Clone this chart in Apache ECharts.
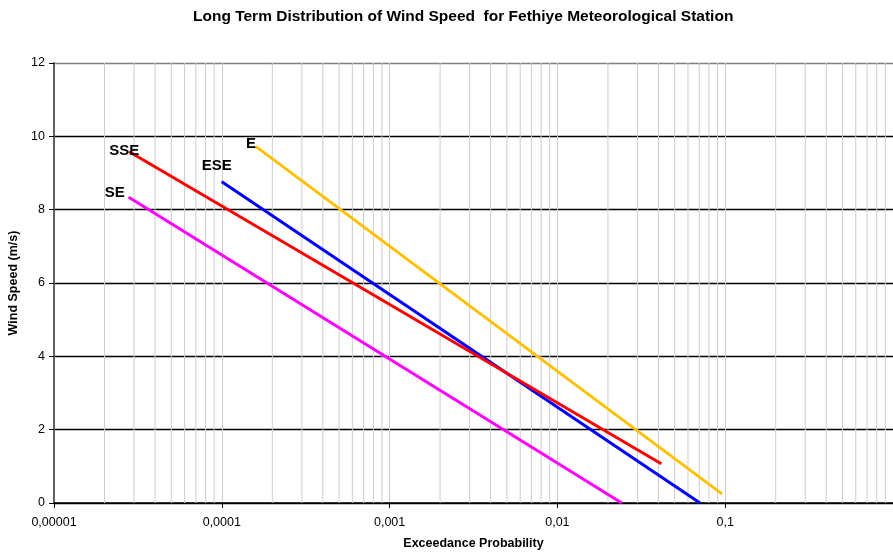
<!DOCTYPE html>
<html>
<head>
<meta charset="utf-8">
<script src="https://cdn.jsdelivr.net/npm/echarts@6/dist/echarts.min.js"></script>
<style>
  html, body { margin: 0; padding: 0; background: #fff; }
  #chart { width: 893px; height: 555px; }
</style>
</head>
<body>
<div id="chart"></div>
<script>
// Exceedance probability (x) vs wind speed (y) for each direction sector, line endpoints
const sectorNames = ['E', 'ESE', 'SSE', 'SE'];
const sectorColors = ['#FFC000', '#0000FF', '#FF0000', '#FF00FF'];
const probE   = [0.00016, 0.0957];
const speedE  = [9.72, 0.25];
const probESE  = [0.0001, 0.0708];
const speedESE = [8.76, 0.0];
const probSSE  = [0.0000281, 0.0416];
const speedSSE = [9.58, 1.07];
const probSE   = [0.0000279, 0.0242];
const speedSE  = [8.34, 0.0];

const xTickLabels = ['0,00001', '0,0001', '0,001', '0,01', '0,1', ''];
const yTicks = [0, 2, 4, 6, 8, 10, 12];

const FONT = 'Liberation Sans, Arial, sans-serif';

// label offsets relative to the upper end of each line
const labelOffsets = {E: [-5, 10.5], ESE: [-5, -2.5], SSE: [-5, 12.5], SE: [-14, 8.5]};

const seriesData = {
  E:   probE.map((p, i) => [p, speedE[i]]),
  ESE: probESE.map((p, i) => [p, speedESE[i]]),
  SSE: probSSE.map((p, i) => [p, speedSSE[i]]),
  SE:  probSE.map((p, i) => [p, speedSE[i]])
};

const series = [];

// intermediate log gridlines (2..9 within each decade), drawn as thin vertical lines
for (let d = -5; d < 0; d++) {
  for (let m = 2; m <= 9; m++) {
    const x = m * Math.pow(10, d);
    series.push({
      type: 'line',
      data: [[x, 0], [x, 12]],
      symbol: 'none',
      silent: true,
      lineStyle: { color: '#cccccc', width: 1 },
      z: 1,
      animation: false
    });
  }
}

sectorNames.forEach((name, si) => {
  series.push({
    name: name,
    type: 'line',
    data: seriesData[name],
    symbol: 'none',
    lineStyle: { color: sectorColors[si], width: 3 },
    itemStyle: { color: sectorColors[si] },
    z: 5,
    animation: false
  });
  // sector name next to the upper end of its line
  series.push({
    type: 'scatter',
    data: [seriesData[name][0]],
    symbolSize: 1,
    itemStyle: { color: sectorColors[si], opacity: 1 },
    silent: true,
    label: {
      show: true, position: 'top', distance: 5, formatter: name,
      offset: labelOffsets[name], opacity: 1,
      fontFamily: FONT, fontWeight: 'bold', fontSize: 15, color: '#000000',
      textBorderWidth: 0
    },
    z: 6,
    animation: false
  });
});

const chart = echarts.init(document.getElementById('chart'), null, { renderer: 'canvas' });
chart.setOption({
  animation: false,
  backgroundColor: '#fff',
  title: {
    text: 'Long Term Distribution of Wind Speed  for Fethiye Meteorological Station',
    left: 188, top: 4,
    textStyle: { fontFamily: FONT, fontWeight: 'bold', fontSize: 15.5, color: '#000' }
  },
  grid: { left: 54, right: 0, top: 63, bottom: 52, containLabel: false, outerBoundsMode: 'none' },
  xAxis: {
    type: 'log', logBase: 10, min: 0.00001, max: 1,
    name: 'Exceedance Probability', nameLocation: 'middle', nameGap: 34,
    nameTextStyle: { fontFamily: FONT, fontWeight: 'bold', fontSize: 12.5, color: '#000' },
    axisLine: { show: true, onZero: false, lineStyle: { color: '#000', width: 1.5 } },
    axisTick: { show: true, length: 5, lineStyle: { color: '#000' } },
    axisLabel: {
      fontFamily: FONT, fontSize: 12.5, color: '#000', margin: 13,
      formatter: (v, idx) => xTickLabels[idx] !== undefined ? xTickLabels[idx] : ''
    },
    splitLine: { show: true, lineStyle: { color: '#cccccc', width: 1 } }
  },
  yAxis: {
    type: 'value', min: 0, max: 12, interval: 2,
    name: 'Wind Speed (m/s)', nameLocation: 'middle', nameGap: 31, nameRotate: 90,
    nameTextStyle: { fontFamily: FONT, fontWeight: 'bold', fontSize: 12.5, color: '#000' },
    axisLine: { show: true, lineStyle: { color: '#606060', width: 2 } },
    axisTick: { show: true, length: 5, lineStyle: { color: '#000' } },
    axisLabel: {
      fontFamily: FONT, fontSize: 12.5, color: '#000', margin: 9,
      formatter: v => yTicks.includes(v) ? String(v) : ''
    },
    splitLine: { show: true, lineStyle: { color: ['#000', '#000', '#000', '#000', '#000', '#000', '#808080'], width: 1.3 } }
  },
  series: series
});
</script>
</body>
</html>
